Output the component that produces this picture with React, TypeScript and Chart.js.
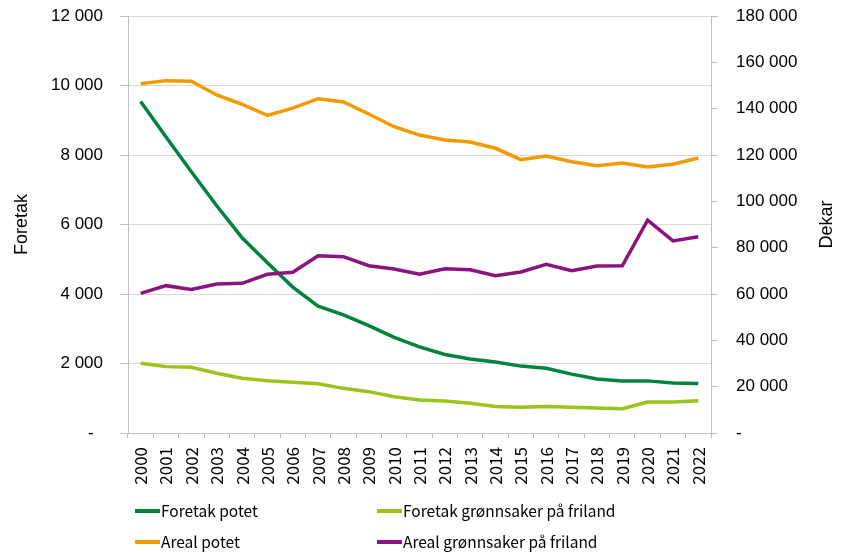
import React, { useEffect, useRef } from "react";
import { Chart, registerables } from "chart.js";

Chart.register(...registerables);

const years = ["2000","2001","2002","2003","2004","2005","2006","2007","2008","2009","2010","2011","2012","2013","2014","2015","2016","2017","2018","2019","2020","2021","2022"];

const foretakPotet = [9540, 8520, 7520, 6540, 5620, 4900, 4200, 3650, 3400, 3090, 2750, 2480, 2260, 2130, 2045, 1925, 1865, 1695, 1555, 1500, 1500, 1440, 1425];
const foretakGronn = [2010, 1910, 1890, 1720, 1575, 1505, 1460, 1420, 1285, 1190, 1045, 950, 920, 855, 760, 740, 760, 740, 720, 700, 890, 890, 930];
const arealPotet = [150800, 152100, 151800, 145900, 141900, 137100, 140200, 144300, 142900, 137700, 132200, 128600, 126500, 125600, 122900, 118000, 119600, 117100, 115400, 116500, 114800, 116000, 118700];
const arealGronn = [60300, 63600, 62000, 64300, 64600, 68500, 69400, 76500, 76100, 72200, 70800, 68500, 70900, 70500, 67900, 69500, 72800, 70100, 72100, 72200, 91900, 82900, 84700];

const seriesNames = ["Foretak potet", "Foretak grønnsaker på friland", "Areal potet", "Areal grønnsaker på friland"];
const seriesColors = ["#00843d", "#9cc31a", "#f39a00", "#8b137e"];

const fmt = (v: number) => String(Math.round(v)).replace(/\B(?=(\d{3})+(?!\d))/g, " ");

const tickFont = { family: "'Liberation Sans', Arial, sans-serif", size: 17 };
const catFont = { family: "'Noto Sans CJK JP', 'Noto Sans', sans-serif", size: 17 };

const overlayPlugin = {
  id: "overlay",
  afterDraw(chart: any) {
    const ctx = chart.ctx;
    const area = chart.chartArea;
    ctx.save();
    ctx.fillStyle = "#000";
    ctx.font = "18px 'Liberation Sans', Arial, sans-serif";
    ctx.textAlign = "center";
    ctx.textBaseline = "middle";
    const cy = (area.top + area.bottom) / 2;
    ctx.save();
    ctx.translate(22, cy);
    ctx.rotate(-Math.PI / 2);
    ctx.fillText("Foretak", 0, 0);
    ctx.restore();
    ctx.save();
    ctx.translate(827, cy);
    ctx.rotate(-Math.PI / 2);
    ctx.fillText("Dekar", 0, 0);
    ctx.restore();
    const cols = [135, 377];
    const rows = [511, 542];
    ctx.font = "15.5px 'Noto Sans CJK JP', 'Noto Sans', sans-serif";
    ctx.textAlign = "left";
    ctx.textBaseline = "middle";
    seriesNames.forEach((name, i) => {
      const x = cols[i % 2];
      const y = rows[Math.floor(i / 2)];
      ctx.strokeStyle = seriesColors[i];
      ctx.lineWidth = 4;
      ctx.beginPath();
      ctx.moveTo(x, y);
      ctx.lineTo(x + 25, y);
      ctx.stroke();
      ctx.fillStyle = "#000";
      ctx.fillText(name, x + 26, y);
    });
    ctx.restore();
  },
};

export default function App() {
  const ref = useRef<HTMLCanvasElement | null>(null);
  useEffect(() => {
    if (!ref.current) return;
    const mk = (i: number, data: number[], axis: string) => ({
      label: seriesNames[i],
      data,
      yAxisID: axis,
      borderColor: seriesColors[i],
      backgroundColor: seriesColors[i],
      borderWidth: 3.5,
      pointRadius: 0,
      tension: 0,
      fill: false,
    });
    const chart = new Chart(ref.current, {
      type: "line",
      data: {
        labels: years,
        datasets: [
          mk(2, arealPotet, "y2"),
          mk(3, arealGronn, "y2"),
          mk(0, foretakPotet, "y"),
          mk(1, foretakGronn, "y"),
        ],
      },
      options: {
        animation: false,
        responsive: false,
        layout: { padding: { top: 16, bottom: 57, left: 0, right: 0 } },
        plugins: { legend: { display: false }, tooltip: { enabled: false } },
        scales: {
          x: {
            type: "category",
            offset: true,
            grid: { display: true, drawOnChartArea: false, offset: true, tickLength: 5, color: "#bfbfbf" },
            border: { display: true, color: "#bfbfbf" },
            ticks: { color: "#000", font: catFont, minRotation: 90, maxRotation: 90, padding: 9, autoSkip: false },
            afterFit: (s: any) => { s.height = 62; s.paddingLeft = 0; s.paddingRight = 0; },
          },
          y: {
            position: "left",
            min: 0,
            max: 12000,
            grid: { color: "#d9d9d9", tickLength: 8, tickColor: "#bfbfbf" },
            border: { display: true, color: "#bfbfbf" },
            ticks: {
              stepSize: 2000,
              color: "#000",
              font: tickFont,
              padding: 17,
              callback: (v: any) => (Number(v) === 0 ? "-  " : fmt(Number(v))),
            },
            afterFit: (s: any) => { s.width = 128; s.paddingTop = 0; s.paddingBottom = 0; },
          },
          y2: {
            position: "right",
            min: 0,
            max: 180000,
            grid: { drawOnChartArea: false, tickLength: 7, color: "#bfbfbf" },
            border: { display: true, color: "#bfbfbf" },
            ticks: {
              stepSize: 20000,
              color: "#000",
              font: tickFont,
              padding: 18,
              callback: (v: any) => (Number(v) === 0 ? "-" : fmt(Number(v))),
            },
            afterFit: (s: any) => { s.width = 135; s.paddingTop = 0; s.paddingBottom = 0; },
          },
        },
      },
      plugins: [overlayPlugin],
    } as any);
    return () => chart.destroy();
  }, []);
  return (
    <div style={{ position: "absolute", left: 0, top: 0, width: 846, height: 552, background: "#fff" }}>
      <canvas ref={ref} width={846} height={552} style={{ width: 846, height: 552 }} />
    </div>
  );
}
